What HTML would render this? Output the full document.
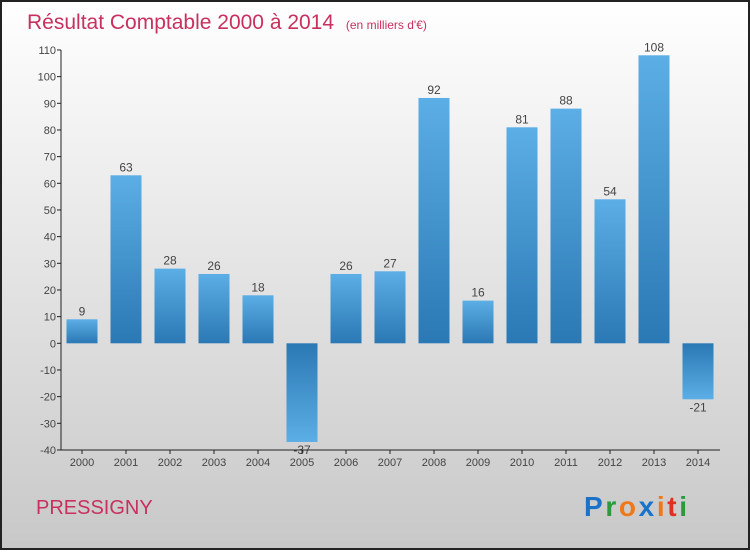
<!DOCTYPE html>
<html><head><meta charset="utf-8"><style>
body{margin:0;width:750px;height:550px;overflow:hidden;font-family:"Liberation Sans",sans-serif}
</style></head><body>
<svg width="750" height="550" xmlns="http://www.w3.org/2000/svg">
<defs>
<linearGradient id="bg" x1="0" y1="0" x2="0" y2="1"><stop offset="0" stop-color="#ffffff"/><stop offset="1" stop-color="#c8c8c8"/></linearGradient>
<linearGradient id="pos" x1="0" y1="0" x2="0" y2="1"><stop offset="0" stop-color="#5caee6"/><stop offset="1" stop-color="#2a78b4"/></linearGradient>
<linearGradient id="neg" x1="0" y1="0" x2="0" y2="1"><stop offset="0" stop-color="#2a78b4"/><stop offset="1" stop-color="#5caee6"/></linearGradient>
</defs>
<rect x="1" y="1" width="748" height="548" fill="url(#bg)" stroke="#222" stroke-width="2"/>
<text x="27" y="29" font-size="21" fill="#c8305e">Résultat Comptable 2000 à 2014 <tspan font-size="12" dx="6">(en milliers d'€)</tspan></text>
<text x="36" y="514" font-size="20" fill="#c8305e">PRESSIGNY</text>
<text x="584" y="516" font-size="28" font-weight="bold" textLength="103"><tspan fill="#1a73c8">P</tspan><tspan fill="#2a9a3a">r</tspan><tspan fill="#f07818">o</tspan><tspan fill="#1a73c8">x</tspan><tspan fill="#f07818">i</tspan><tspan fill="#e03020">t</tspan><tspan fill="#2a9a3a">i</tspan></text>
<g id="plot"></g>
</svg>
<script>
const years=["2000","2001","2002","2003","2004","2005","2006","2007","2008","2009","2010","2011","2012","2013","2014"];
const values=[9,63,28,26,18,-37,26,27,92,16,81,88,54,108,-21];
const yTicks=[110,100,90,80,70,60,50,40,30,20,10,0,-10,-20,-30,-40];
const NS="http://www.w3.org/2000/svg";
const g=document.getElementById('plot');
const y=v=>343.3-(v)*400/150;
const x=i=>82+i*44;
function el(t,a){const e=document.createElementNS(NS,t);for(const k in a)e.setAttribute(k,a[k]);g.appendChild(e);return e;}
yTicks.forEach(t=>{
 const l=el('line',{x1:57,x2:61,y1:y(t),y2:y(t),stroke:'#222'});
 
 
 const tx=el('text',{x:56,y:y(t)+4,'text-anchor':'end','font-size':11,fill:'#444'});tx.textContent=t;
 
 
});
values.forEach((v,i)=>{
 const top=Math.min(y(v),y(0)),h=Math.abs(y(v)-y(0));
 const r=el('rect',{x:x(i)-15.5,y:top,width:31,height:h,fill:v>=0?'url(#pos)':'url(#neg)'});
 
 
 const tx=el('text',{x:x(i),y:v>=0?y(v)-4:y(v)+12,'text-anchor':'middle','font-size':12,fill:'#444'});tx.textContent=v;
 
 
 const tk=el('line',{x1:x(i),x2:x(i),y1:450,y2:454,stroke:'#222'});
 
 
 const yl=el('text',{x:x(i),y:466,'text-anchor':'middle','font-size':11,fill:'#444'});yl.textContent=years[i];
 
 
});
const ya=el('line',{x1:61,x2:61,y1:y(110),y2:450,stroke:'#222'});


const xa=el('line',{x1:61,x2:720,y1:450,y2:450,stroke:'#222'});


</script>
</body></html>
